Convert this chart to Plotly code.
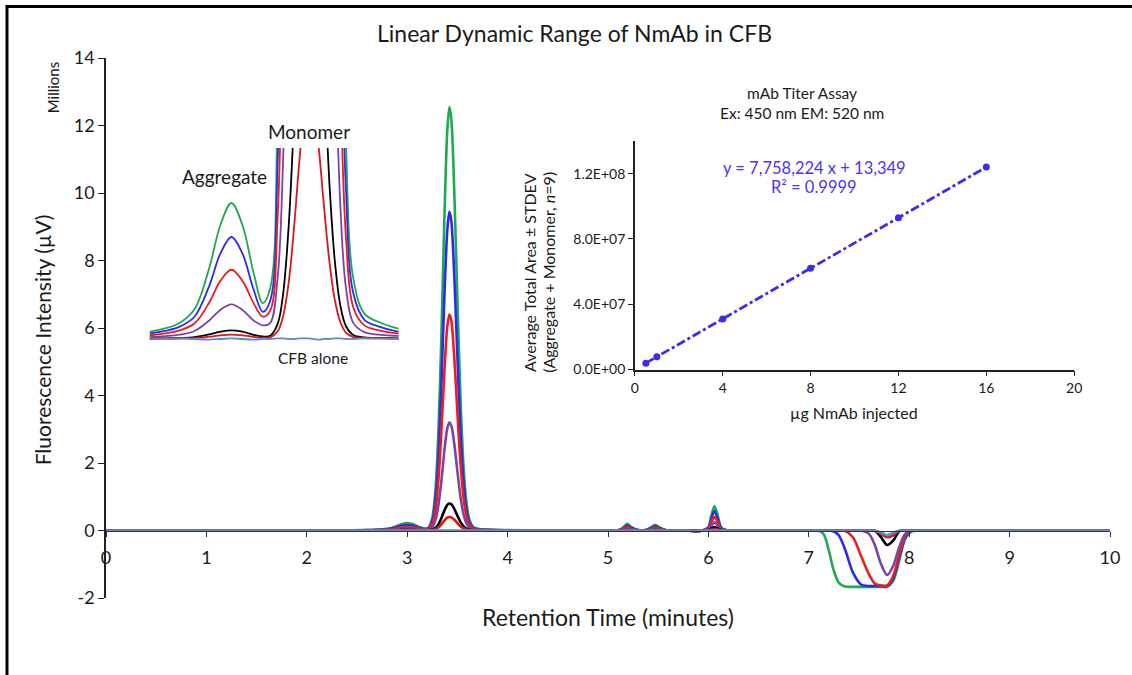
import plotly.graph_objects as go

# ---------------- data ----------------
# Chromatogram (retention time in minutes, intensity in millions of µV)
time_min = [
    0.00, 0.50, 1.00, 1.50, 2.00, 2.40, 2.56, 2.64, 2.72, 2.80,
    2.88, 2.94, 3.00, 3.06, 3.12, 3.17, 3.21, 3.25, 3.28, 3.31,
    3.34, 3.37, 3.40, 3.42, 3.44, 3.47, 3.50, 3.53, 3.56, 3.59,
    3.62, 3.66, 3.72, 3.80, 3.90, 4.00, 4.30, 4.60, 5.00, 5.10, 5.15,
    5.19, 5.23, 5.30, 5.38, 5.43, 5.47, 5.51, 5.58, 5.80, 5.87,
    5.94, 6.00, 6.03, 6.06, 6.09, 6.13, 6.20, 6.26, 6.45, 7.00, 7.10, 7.15,
    7.20, 7.25, 7.30, 7.36, 7.44, 7.52, 7.60, 7.66, 7.72, 7.78,
    7.84, 7.90, 7.96, 8.02, 8.10, 8.50, 9.00, 9.50, 10.00,
]
green_16ug = [
    0, 0, 0, 0, 0.001, 0.006, 0.012, 0.017, 0.026, 0.048,
    0.115, 0.184, 0.220, 0.184, 0.107, 0.058, 0.082, 0.376, 1.144, 2.85,
    5.72, 9.21, 11.90, 12.55, 12.17, 9.94, 6.84, 3.98, 1.97, 0.84,
    0.324, 0.098, 0.041, 0.027, 0.017, 0.011, 0.003, 0, 0, 0.010, 0.090,
    0.200, 0.110, 0.015, 0.020, 0.100, 0.170, 0.100, 0.010, 0, -0.030,
    0, 0.100, 0.450, 0.720, 0.480, 0.080, 0, 0, 0, 0, -0.010, -0.120,
    -0.600, -1.200, -1.550, -1.660, -1.670, -1.670, -1.670, -1.670, -1.670, -1.670,
    -1.500, -0.900, -0.250, -0.030, 0, 0, 0, 0, 0,
]
blue_12ug = [
    0, 0, 0, 0, 0.001, 0.0045, 0.009, 0.013, 0.020, 0.036,
    0.086, 0.138, 0.165, 0.138, 0.080, 0.044, 0.062, 0.282, 0.858, 2.14,
    4.29, 6.91, 8.93, 9.45, 9.15, 7.47, 5.14, 2.99, 1.48, 0.63,
    0.243, 0.074, 0.031, 0.020, 0.012, 0.008, 0.002, 0, 0, 0.007, 0.065,
    0.145, 0.080, 0.011, 0.014, 0.072, 0.125, 0.072, 0.007, 0, -0.025,
    0, 0.080, 0.360, 0.580, 0.380, 0.065, 0, 0, 0, 0, 0, 0,
    -0.005, -0.030, -0.150, -0.550, -1.250, -1.600, -1.645, -1.645, -1.645, -1.645,
    -1.420, -0.800, -0.200, -0.020, 0, 0, 0, 0, 0,
]
red_8ug = [
    0, 0, 0, 0, 0, 0.003, 0.006, 0.009, 0.014, 0.025,
    0.059, 0.094, 0.112, 0.094, 0.058, 0.036, 0.046, 0.195, 0.585, 1.46,
    2.92, 4.70, 6.07, 6.40, 6.21, 5.07, 3.49, 2.03, 1.00, 0.43,
    0.166, 0.051, 0.022, 0.014, 0.009, 0.006, 0.002, 0, 0, 0.005, 0.045,
    0.100, 0.055, 0.008, 0.010, 0.050, 0.085, 0.050, 0.005, 0, -0.020,
    0, 0.055, 0.250, 0.400, 0.270, 0.045, 0, 0, 0, 0, 0, 0,
    0, 0, 0, -0.010, -0.200, -0.750, -1.300, -1.580, -1.630, -1.630,
    -1.350, -0.720, -0.160, -0.010, 0, 0, 0, 0, 0,
]
purple_4ug = [
    0, 0, 0, 0, 0, 0.0015, 0.003, 0.0045, 0.007, 0.013,
    0.030, 0.047, 0.056, 0.047, 0.030, 0.022, 0.026, 0.098, 0.292, 0.73,
    1.46, 2.35, 3.04, 3.20, 3.10, 2.54, 1.75, 1.02, 0.50, 0.215,
    0.083, 0.026, 0.011, 0.007, 0.005, 0.003, 0.001, 0, 0, 0.002, 0.022,
    0.050, 0.028, 0.004, 0.005, 0.025, 0.045, 0.025, 0.003, 0, -0.010,
    0, 0.035, 0.150, 0.240, 0.160, 0.030, 0, 0, 0, 0, 0, 0,
    0, 0, 0, 0, 0, 0, -0.100, -0.450, -1.000, -1.320,
    -1.050, -0.500, -0.100, 0, 0, 0, 0, 0, 0,
]
black_1ug = [
    0, 0, 0, 0, 0, 0.0004, 0.0008, 0.001, 0.0016, 0.003,
    0.0074, 0.0118, 0.014, 0.0118, 0.0068, 0.004, 0.0052, 0.024, 0.073, 0.182,
    0.366, 0.59, 0.76, 0.80, 0.776, 0.635, 0.437, 0.255, 0.126, 0.054,
    0.021, 0.0063, 0.0026, 0.0017, 0.0011, 0.0007, 0, 0, 0, 0, 0.006,
    0.012, 0.007, 0.001, 0.001, 0.006, 0.011, 0.006, 0.001, 0, 0,
    0, 0.014, 0.060, 0.100, 0.065, 0.012, 0, 0, 0, 0, 0, 0,
    0, 0, 0, 0, 0, 0, 0, -0.010, -0.200, -0.430,
    -0.300, -0.030, 0, 0, 0, 0, 0, 0, 0,
]
red_05ug = [
    0, 0, 0, 0, 0, 0.0002, 0.0004, 0.0005, 0.0008, 0.0014,
    0.0037, 0.0059, 0.007, 0.0059, 0.0034, 0.0019, 0.0026, 0.012, 0.037, 0.091,
    0.183, 0.295, 0.38, 0.40, 0.388, 0.318, 0.219, 0.127, 0.063, 0.027,
    0.0104, 0.0031, 0.0013, 0.0009, 0.0005, 0.0003, 0, 0, 0, 0, 0.003,
    0.006, 0.0035, 0, 0, 0.003, 0.0055, 0.003, 0, 0, 0,
    0, 0.007, 0.030, 0.050, 0.033, 0.006, 0, 0, 0, 0, 0, 0,
    0, 0, 0, 0, 0, 0, 0, -0.005, -0.100, -0.200,
    -0.140, -0.010, 0, 0, 0, 0, 0, 0, 0,
]
cfb_alone = [
    0.001, -0.001, 0.001, -0.001, 0.001, 0.000, 0.001, 0.000, 0.001, 0.000,
    -0.001, 0.000, 0.001, 0.000, -0.001, 0.000, 0.000, 0.001, 0.001, 0.000,
    0.000, 0.001, 0.001, 0.001, 0.000, -0.001, 0.000, 0.000, 0.001, 0.001,
    0.000, 0.000, 0.001, 0.001, 0.000, 0.001, 0.000, 0.001, 0.001, -0.001, 0.001,
    0.000, 0.002, 0.000, -0.001, 0.001, 0.000, 0.001, 0.000, -0.001, -0.010,
    0.000, 0.001, 0.002, 0.001, 0.000, -0.001, 0.000, 0.001, 0.000, 0.001, 0.000, -0.001,
    0.000, 0.001, 0.000, -0.001, 0.000, 0.001, 0.000, -0.010, -0.060, -0.140,
    -0.070, -0.005, 0.001, 0.000, 0.001, -0.001, 0.000, 0.001, 0.000,
]
main_xticks = [0, 1, 2, 3, 4, 5, 6, 7, 8, 9, 10]
main_yticks = [-2, 0, 2, 4, 6, 8, 10, 12, 14]
main_yticklabels = ["-2", "0", "2", "4", "6", "8", "10", "12", "14"]

# Titer assay (µg injected vs. average total area)
titer_ug = [0.5, 1, 4, 8, 12, 16]
titer_area = [3.9e6, 7.8e6, 3.1e7, 6.2e7, 9.3e7, 1.24e8]
titer_xticks = [0, 4, 8, 12, 16, 20]
titer_yticks = [0, 4e7, 8e7, 1.2e8]
titer_yticklabels = ["0.0E+00", "4.0E+07", "8.0E+07", "1.2E+08"]

# ---------------- styling ----------------
FONT = "Lato"
INK = "#1a1a1a"
series = [
    (green_16ug, "#1fa84f"),
    (blue_12ug, "#2b2bf0"),
    (red_8ug, "#ee1c1c"),
    (purple_4ug, "#7b42a8"),
    (black_1ug, "#000000"),
    (red_05ug, "#d81818"),
    (cfb_alone, "#5b8bd0"),
]

W, H = 1132, 675
L, R, T, B = 106, 1115, 58, 598          # pixel edges of main plot area


def px(x):
    return (x - L) / (R - L)


def py(y):
    return (B - y) / (B - T)


fig = go.Figure()

for ys, col in series:
    fig.add_trace(go.Scatter(
        x=time_min, y=ys, mode="lines", xaxis="x", yaxis="y",
        line=dict(color=col, width=2.6, shape="spline", smoothing=0.8),
        hoverinfo="skip", showlegend=False))

for ys, col in series:
    fig.add_trace(go.Scatter(
        x=time_min, y=ys, mode="lines", xaxis="x3", yaxis="y3",
        line=dict(color=col, width=1.8, shape="spline", smoothing=1.0),
        hoverinfo="skip", showlegend=False))

fig.add_trace(go.Scatter(
    x=titer_ug, y=titer_area, mode="lines+markers", xaxis="x2", yaxis="y2",
    line=dict(color="#3a2cf2", width=2.8, dash="dashdot"),
    marker=dict(color="#3a2cf2", size=7),
    hoverinfo="skip", showlegend=False))

tick_font = dict(family=FONT, size=18, color=INK)
small_font = dict(family=FONT, size=14, color=INK)

ann = []


def add_text(text, x, y, size, color=INK, angle=0):
    ann.append(dict(text=text, x=px(x), y=py(y), xref="paper", yref="paper",
                    showarrow=False, textangle=angle, xanchor="center", yanchor="middle",
                    font=dict(family=FONT, size=size, color=color)))


add_text("Linear Dynamic Range of NmAb in CFB", 577, 33, 23)
add_text("Millions", 53, 88, 15, angle=-90)
add_text("Fluorescence Intensity (µV)", 43, 340, 21, angle=-90)
add_text("Retention Time (minutes)", 611, 617, 23)
add_text("Aggregate", 225, 177, 19)
add_text("Monomer", 310, 131, 19)
add_text("CFB alone", 314, 358, 15.5)
add_text("mAb Titer Assay", 805, 93, 15.5)
add_text("Ex: 450 nm EM: 520 nm", 805, 113, 15.5)
add_text("y = 7,758,224 x + 13,349", 818, 168, 16.5, color="#4a36f0")
add_text("R² = 0.9999", 818, 187, 16.5, color="#4a36f0")
add_text("Average Total Area ± STDEV", 531, 272, 16, angle=-90)
add_text("(Aggregate + Monomer, <i>n</i>=9)", 550, 272, 16, angle=-90)
add_text("µg NmAb injected", 858, 412, 16)

fig.update_layout(
    width=W, height=H, autosize=False,
    margin=dict(l=L, r=W - R, t=T, b=H - B),
    paper_bgcolor="white", plot_bgcolor="rgba(0,0,0,0)",
    showlegend=False, font=dict(family=FONT),
    xaxis=dict(domain=[0, 1], range=[0, 10], anchor="free", position=py(530.5),
               tickvals=main_xticks, ticks="outside", ticklen=5, tickcolor="#333",
               showline=True, linecolor="#333", linewidth=1.2,
               showgrid=False, zeroline=False, tickfont=tick_font, ticklabelstandoff=6),
    yaxis=dict(domain=[0, 1], range=[-2, 14], anchor="x",
               tickvals=main_yticks, ticktext=main_yticklabels,
               ticks="outside", ticklen=6, tickcolor="#222",
               showline=True, linecolor="#222", linewidth=1.5,
               showgrid=False, zeroline=False, tickfont=tick_font),
    xaxis2=dict(domain=[px(637.5), px(1079)], range=[0, 20], anchor="y2",
                tickvals=titer_xticks, ticks="outside", ticklen=5, tickcolor="#222",
                showline=True, linecolor="#222", linewidth=1.5,
                showgrid=False, zeroline=False, tickfont=small_font),
    yaxis2=dict(domain=[py(369.5), py(141)], range=[0, 1.4e8], anchor="x2",
                tickvals=titer_yticks, ticktext=titer_yticklabels,
                ticks="outside", ticklen=5, tickcolor="#222",
                showline=True, linecolor="#222", linewidth=1.5,
                showgrid=False, zeroline=False, tickfont=small_font),
    xaxis3=dict(domain=[px(150), px(400)], range=[2.558, 3.905], anchor="y3",
                visible=False),
    yaxis3=dict(domain=[py(346.4), py(148)], range=[-0.012, 0.309], anchor="x3",
                visible=False),
    annotations=ann,
    shapes=[dict(type="rect", xref="paper", yref="paper",
                 x0=px(6.5), x1=px(1150), y0=py(6.5), y1=py(690),
                 line=dict(color="black", width=3), fillcolor="rgba(0,0,0,0)")],
)

fig.write_html("out.html",
               config={"displayModeBar": False},
               post_script="document.body.style.margin='0px';"
                           "document.body.style.overflow='hidden';")
